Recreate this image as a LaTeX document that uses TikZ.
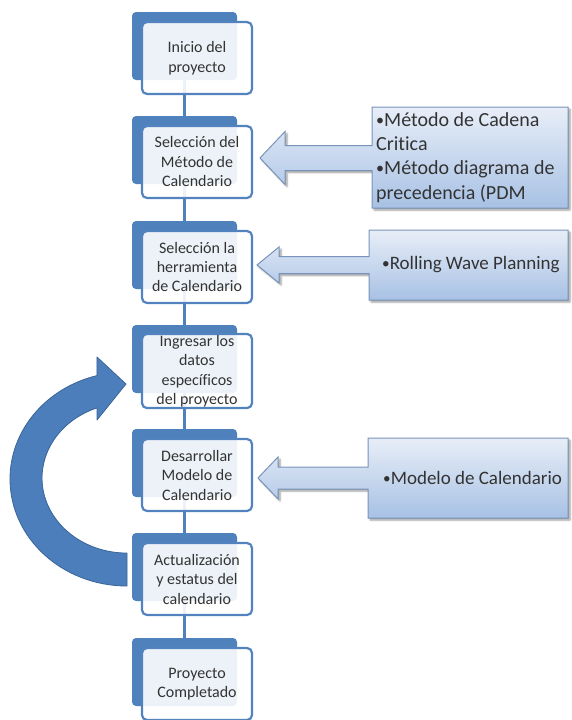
\documentclass[tikz,border=0pt]{standalone}
\usepackage{fontspec}
\setmainfont{Carlito}[Ligatures=NoCommon]
\usetikzlibrary{shadows.blur}

\definecolor{tabblue}{HTML}{4F81BD}
\definecolor{edgeblue}{HTML}{5283BE}
\definecolor{loopfill}{HTML}{4C7EBB}
\definecolor{loopedge}{HTML}{3A6599}
\definecolor{calltop}{HTML}{E8EEF8}
\definecolor{callbot}{HTML}{A7C1E4}
\definecolor{calledge}{HTML}{7893BA}
\definecolor{inktext}{HTML}{333333}

% small list bullet
\newcommand{\listdot}{\raisebox{0.06em}{\scalebox{0.8}{•}}}

\tikzset{
  tabbox/.style={rectangle, rounded corners=4pt, fill=tabblue, draw=none,
    minimum width=105pt, minimum height=68pt, inner sep=0pt},
  stepbox/.style={rectangle, rounded corners=5pt, draw=edgeblue, line width=2.2pt,
    fill=white, fill opacity=0.9, text opacity=1, text=inktext,
    minimum width=110pt, minimum height=72pt, inner sep=1pt, align=center,
    font=\fontsize{16}{19.5}\selectfont},
  link/.style={draw=tabblue, line width=2.8pt},
  callout/.style={draw=calledge, line width=1pt, top color=calltop, bottom color=callbot,
    blur shadow={shadow xshift=2pt, shadow yshift=-2pt, shadow blur steps=5, shadow opacity=40}},
  calltext/.style={anchor=west, align=left, text=inktext, inner sep=0pt,
    font=\fontsize{19}{24}\selectfont},
  looparrow/.style={fill=loopfill, draw=loopedge, line width=0.8pt, line join=round}
}

\begin{document}
\begin{tikzpicture}[x=1pt, y=-1pt]
\useasboundingbox (0,0) rectangle (572,720);

% feedback loop arrow on the left
\path[looparrow] (127,586)
  arc[start angle=90, end angle=255.1, x radius=117, y radius=107]
  -- (97,357) -- (126,384) -- (97,420) -- (97,407.9)
  arc[start angle=249.3, end angle=90, x radius=85, y radius=75]
  -- cycle;

% step tabs
\node[tabbox] (t1) at (184.5, 46) {};
\node[tabbox] (t2) at (184.5,150) {};
\node[tabbox] (t3) at (184.5,255) {};
\node[tabbox] (t4) at (184.5,359) {};
\node[tabbox] (t5) at (184.5,463) {};
\node[tabbox] (t6) at (184.5,567) {};
\node[tabbox] (t7) at (184.5,672) {};

% vertical connectors between steps
\draw[link] (t1.south) -- (t2.north);
\draw[link] (t2.south) -- (t3.north);
\draw[link] (t3.south) -- (t4.north);
\draw[link] (t4.south) -- (t5.north);
\draw[link] (t5.south) -- (t6.north);
\draw[link] (t6.south) -- (t7.north);

% step boxes
\node[stepbox] (s1) at (197, 58) {Inicio del\\proyecto};
\node[stepbox] (s2) at (197,162) {Selección del\\Método de\\Calendario};
\node[stepbox] (s3) at (197,267) {Selección la\\herramienta\\de Calendario};
\node[stepbox] (s4) at (197,371) {Ingresar los\\datos\\específicos\\del proyecto};
\node[stepbox] (s5) at (197,475) {Desarrollar\\Modelo de\\Calendario};
\node[stepbox] (s6) at (197,579) {Actualización\\y estatus del\\calendario};
\node[stepbox] (s7) at (197,684) {Proyecto\\Completado};

% callout: scheduling methods
\coordinate (c1tip) at (260,158);
\path[callout] (568,107) -- (372,107) -- (372,145.5) -- (285,145.5) -- (285,131.5)
  -- (c1tip) -- (285,184.5) -- (285,170.5) -- (372,170.5) -- (372,208) -- (568,208) -- cycle;
\node[calltext, font=\fontsize{20}{24.3}\selectfont] (m1) at (376,157.5)
  {\listdot Método de Cadena\\Critica\\\listdot Método diagrama de\\precedencia (PDM};

% callout: scheduling tool
\coordinate (c2tip) at (257,265);
\path[callout] (568,230) -- (369,230) -- (369,256.5) -- (279,256.5) -- (279,247)
  -- (c2tip) -- (279,283) -- (279,273.5) -- (369,273.5) -- (369,300) -- (568,300) -- cycle;
\node[calltext] (m2) at (382,265) {\listdot Rolling Wave Planning};

% callout: schedule model
\coordinate (c3tip) at (258,478);
\path[callout] (568,438) -- (368,438) -- (368,467) -- (278,467) -- (278,457)
  -- (c3tip) -- (278,499) -- (278,489) -- (368,489) -- (368,518) -- (568,518) -- cycle;
\node[calltext] (m3) at (383,478) {\listdot Modelo de Calendario};
\end{tikzpicture}
\end{document}
